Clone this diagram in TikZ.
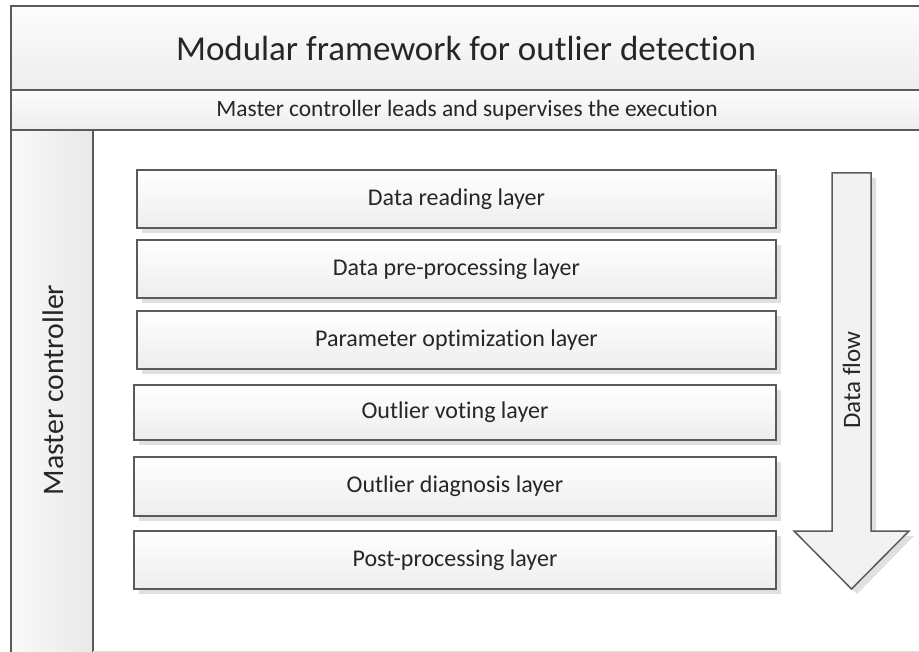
\documentclass[tikz,border=0pt]{standalone}
\usepackage{fontspec}
\setmainfont{Carlito}[Ligatures={NoCommon}]
\usetikzlibrary{shadows}
\definecolor{edge}{HTML}{5A5A5A}
\definecolor{ink}{HTML}{262626}
\begin{document}
\begin{tikzpicture}[x=1pt,y=-1pt,
  band/.style={draw=edge, line width=1.5pt, top color=black!1, bottom color=black!7, inner sep=0pt, outer sep=0pt, text=ink},
  layerbox/.style={draw=edge, line width=1.5pt, top color=white, bottom color=black!7,
    inner sep=0pt, outer sep=0pt, text=ink, font=\fontsize{24}{28}\selectfont,
    drop shadow={shadow xshift=5pt, shadow yshift=-5pt, fill=black!12, opacity=1}},
  flowarrow/.style={draw=edge, line width=1.5pt, fill=black!5, line join=miter},
]
% canvas
\fill[white] (0,0) rectangle (919,652);
\useasboundingbox (0,0) rectangle (919,652);

% outer frame: title band, subtitle band, controller column
\draw[band] (11,6) rectangle (930,90);
\node[text=ink, font=\fontsize{35}{40}\selectfont] (title) at (466,48) {Modular framework for outlier detection};
\draw[band] (11,90) rectangle (930,130);
\node[text=ink, font=\fontsize{23.4}{28}\selectfont] (sub) at (467,110) {Master controller leads and supervises the execution};
\draw[draw=edge, line width=1.5pt, left color=black!2, right color=black!9] (11,130) rectangle (93,665);
\node[text=ink, rotate=90, font=\fontsize{29.8}{34}\selectfont] (master) at (53,390) {Master controller};
\draw[black!12, line width=1pt] (93,651) -- (919,651);

% processing layers
\node[layerbox, minimum width=639pt, minimum height=58pt] (l1) at (456.5,199) {Data reading layer};
\node[layerbox, minimum width=639pt, minimum height=58pt] (l2) at (456.5,269) {Data pre-processing layer};
\node[layerbox, minimum width=639pt, minimum height=58pt] (l3) at (456.5,340) {Parameter optimization layer};
\node[layerbox, minimum width=642pt, minimum height=55pt] (l4) at (455,412.5) {Outlier voting layer};
\node[layerbox, minimum width=642pt, minimum height=59pt] (l5) at (455,486.5) {Outlier diagnosis layer};
\node[layerbox, minimum width=642pt, minimum height=58pt] (l6) at (455,560) {Post-processing layer};

% data flow arrow
\fill[black!12] (837,178) -- (876,178) -- (876,536) -- (914,536) -- (857,594) -- (798,536) -- (837,536) -- cycle;
\draw[flowarrow] (832,173) -- (871,173) -- (871,531) -- (909,531) -- (851.5,589) -- (794,531) -- (832,531) -- cycle;
\node[text=ink, rotate=90, font=\fontsize{25}{29}\selectfont] (flow) at (851.5,380) {Data flow};
\end{tikzpicture}
\end{document}
